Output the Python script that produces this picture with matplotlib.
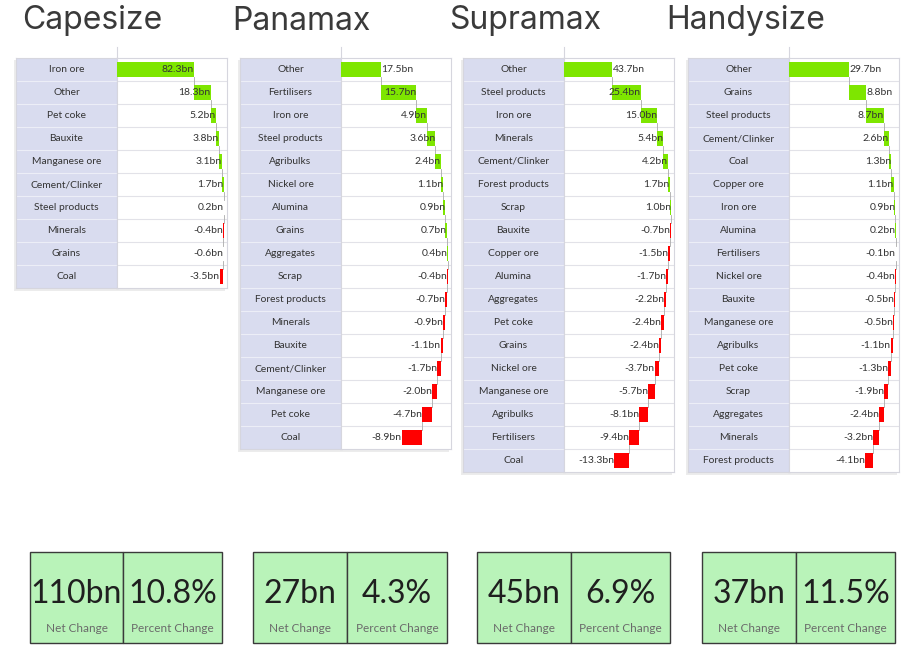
import matplotlib
matplotlib.use("Agg")
import matplotlib.pyplot as plt
from matplotlib.patches import Rectangle

# ---- data ----
vessels = ["Capesize", "Panamax", "Supramax", "Handysize"]

cape_cargo = ["Iron ore", "Other", "Pet coke", "Bauxite", "Manganese ore",
              "Cement/Clinker", "Steel products", "Minerals", "Grains", "Coal"]
cape_change = [82.3, 18.3, 5.2, 3.8, 3.1, 1.7, 0.2, -0.4, -0.6, -3.5]

pana_cargo = ["Other", "Fertilisers", "Iron ore", "Steel products", "Agribulks",
              "Nickel ore", "Alumina", "Grains", "Aggregates", "Scrap",
              "Forest products", "Minerals", "Bauxite", "Cement/Clinker",
              "Manganese ore", "Pet coke", "Coal"]
pana_change = [17.5, 15.7, 4.9, 3.6, 2.4, 1.1, 0.9, 0.7, 0.4, -0.4,
               -0.7, -0.9, -1.1, -1.7, -2.0, -4.7, -8.9]

supra_cargo = ["Other", "Steel products", "Iron ore", "Minerals", "Cement/Clinker",
               "Forest products", "Scrap", "Bauxite", "Copper ore", "Alumina",
               "Aggregates", "Pet coke", "Grains", "Nickel ore", "Manganese ore",
               "Agribulks", "Fertilisers", "Coal"]
supra_change = [43.7, 25.4, 15.0, 5.4, 4.2, 1.7, 1.0, -0.7, -1.5, -1.7,
                -2.2, -2.4, -2.4, -3.7, -5.7, -8.1, -9.4, -13.3]

handy_cargo = ["Other", "Grains", "Steel products", "Cement/Clinker", "Coal",
               "Copper ore", "Iron ore", "Alumina", "Fertilisers", "Nickel ore",
               "Bauxite", "Manganese ore", "Agribulks", "Pet coke", "Scrap",
               "Aggregates", "Minerals", "Forest products"]
handy_change = [29.7, 8.8, 8.7, 2.6, 1.3, 1.1, 0.9, 0.2, -0.1, -0.4,
                -0.5, -0.5, -1.1, -1.3, -1.9, -2.4, -3.2, -4.1]

net_change_bn = [110, 27, 45, 37]
percent_change = [10.8, 4.3, 6.9, 11.5]

# rows whose value label sits to the right of the bar end
label_outside = [[], [0], [0], [0, 1]]

# ---- layout (pixels) ----
W, H = 901, 654
title_x = [22, 232, 449, 666]
table_left = [16, 240, 463, 688]
label_w = 101
value_w = 110
row_top = 58
row_h = 23
box_x = [(30, 123, 222), (253, 347, 447), (477, 571, 670), (702, 796, 895)]
box_y = (552, 643)

LABEL_BG = "#d9dcef"
GRID = "#d6d6de"
GREEN = "#7ee600"
RED = "#ff0000"
BOX_BG = "#b9f3b9"
TXT = "#333333"
BODY_FONT = "Lato"

fig = plt.figure(figsize=(W / 100, H / 100), dpi=100)
fig.patch.set_facecolor("white")


def px_axes(x0, y0, x1, y1):
    return fig.add_axes([x0 / W, 1 - y1 / H, (x1 - x0) / W, (y1 - y0) / H])


# overlay for titles and KPI boxes
over = px_axes(0, 0, W, H)
over.set_xlim(0, W)
over.set_ylim(H, 0)
over.axis("off")

cargos = [cape_cargo, pana_cargo, supra_cargo, handy_cargo]
changes = [cape_change, pana_change, supra_change, handy_change]

for k, name in enumerate(vessels):
    over.text(title_x[k], 21, name, fontsize=23, color="#3a3a3a",
              family="Inter", ha="left", va="center")

    cargo = cargos[k]
    vals = changes[k]
    n = len(cargo)
    x0 = table_left[k]
    xm = x0 + label_w
    x1 = xm + value_w
    y1 = row_top + n * row_h

    # header stub above value column + faint shadow under the table
    over.plot([xm, xm], [row_top - 11, row_top], color=GRID, lw=0.8)
    over.add_patch(Rectangle((x0 - 2, row_top + 2), x1 - x0, y1 - row_top + 1,
                             facecolor="#ececec", edgecolor="none"))

    # label column
    axl = px_axes(x0, row_top, xm, y1)
    axl.set_xlim(0, 1)
    axl.set_ylim(n, 0)
    axl.set_facecolor(LABEL_BG)
    for s in axl.spines.values():
        s.set_color(GRID)
        s.set_linewidth(0.8)
    axl.set_xticks([])
    axl.set_yticks([])
    for i, c in enumerate(cargo):
        axl.text(0.5, i + 0.5, c, ha="center", va="center", fontsize=7.4,
                 color=TXT, family=BODY_FONT)
        if i > 0:
            axl.axhline(i, color="#eceef7", lw=0.8)

    # waterfall value column
    cum = [0.0]
    for v in vals:
        cum.append(cum[-1] + v)
    xmax = max(cum) * 1.03
    axv = px_axes(xm, row_top, x1, y1)
    axv.set_xlim(0, xmax)
    axv.set_ylim(n, 0)
    axv.set_facecolor("white")
    for s in axv.spines.values():
        s.set_color(GRID)
        s.set_linewidth(0.8)
    axv.set_xticks([])
    axv.set_yticks([])
    for i in range(1, n):
        axv.axhline(i, color="#e2e2e8", lw=0.8)

    colors = [GREEN if v >= 0 else RED for v in vals]
    axv.barh([i + 0.5 for i in range(n)], vals, left=cum[:-1], height=0.62,
             color=colors, zorder=3)
    for i in range(n - 1):
        axv.plot([cum[i + 1], cum[i + 1]], [i + 0.81, i + 1.19],
                 color="#aaaaaa", lw=0.6, zorder=2)
    for i, v in enumerate(vals):
        if i in label_outside[k]:
            axv.text(cum[i + 1] + xmax * 0.005, i + 0.5, f"{v:.1f}bn",
                     ha="left", va="center", fontsize=7.5, color=TXT,
                     family=BODY_FONT, zorder=4)
        else:
            axv.text(cum[i + 1], i + 0.5, f"{v:.1f}bn", ha="right",
                     va="center", fontsize=7.5, color=TXT,
                     family=BODY_FONT, zorder=4)

    # KPI boxes
    bl, bm, br = box_x[k]
    ytop, ybot = box_y
    for a, b in [(bl, bm), (bm, br)]:
        over.add_patch(Rectangle((a, ytop), b - a, ybot - ytop,
                                 facecolor=BOX_BG, edgecolor="#3a3a3a",
                                 lw=1.0))
    over.text((bl + bm) / 2, 594, f"{net_change_bn[k]}bn", ha="center",
              va="center", fontsize=23, color="#1f1f1f", family=BODY_FONT)
    over.text((bm + br) / 2, 594, f"{percent_change[k]:.1f}%", ha="center",
              va="center", fontsize=23, color="#1f1f1f", family=BODY_FONT)
    over.text((bl + bm) / 2, 628, "Net Change", ha="center", va="center",
              fontsize=8.5, color="#6a6a6a", family=BODY_FONT)
    over.text((bm + br) / 2, 628, "Percent Change", ha="center",
              va="center", fontsize=8.5, color="#6a6a6a", family=BODY_FONT)

fig.savefig("out.png", dpi=100)
